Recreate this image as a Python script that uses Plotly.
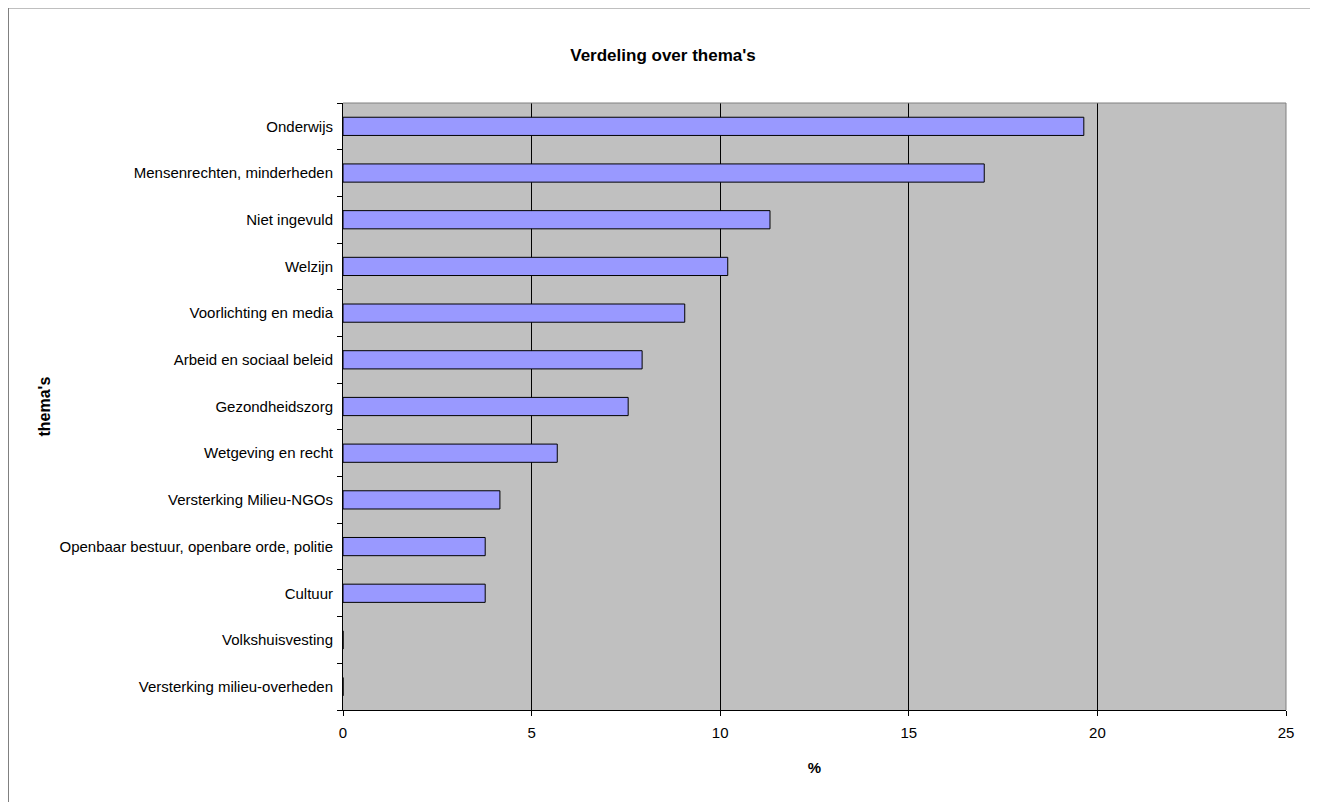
import plotly.graph_objects as go

categories = [
    "Onderwijs",
    "Mensenrechten, minderheden",
    "Niet ingevuld",
    "Welzijn",
    "Voorlichting en media",
    "Arbeid en sociaal beleid",
    "Gezondheidszorg",
    "Wetgeving en recht",
    "Versterking Milieu-NGOs",
    "Openbaar bestuur, openbare orde, politie",
    "Cultuur",
    "Volkshuisvesting",
    "Versterking milieu-overheden",
]
values = [19.64, 17.0, 11.32, 10.2, 9.06, 7.93, 7.56, 5.68, 4.16, 3.77, 3.77, 0, 0]
x_ticks = [0, 5, 10, 15, 20, 25]

FONT = "Liberation Sans, Arial, sans-serif"

# figure size / plot-area geometry (figure coords; page adds 8px body margin)
W, H = 1310, 794
L, R, T, B = 335, 1278, 95, 702

fig = go.Figure(
    go.Bar(
        x=values,
        y=categories,
        orientation="h",
        marker=dict(color="#9999FF", line=dict(color="#000000", width=1)),
        width=0.39,
    )
)

fig.update_layout(
    width=W,
    height=H,
    margin=dict(l=L, r=W - R, t=T, b=H - B),
    paper_bgcolor="white",
    plot_bgcolor="#C0C0C0",
    showlegend=False,
    title=dict(
        text="<b>Verdeling over thema's</b>",
        x=655 / W,
        xref="container",
        y=1 - 47 / H,
        yref="container",
        xanchor="center",
        yanchor="middle",
        font=dict(family=FONT, size=17, color="black"),
    ),
    font=dict(family=FONT, size=15, color="black"),
)

fig.update_xaxes(
    range=[0, 25],
    tickvals=x_ticks,
    ticks="outside",
    ticklen=5,
    tickcolor="black",
    ticklabelstandoff=4,
    showgrid=True,
    gridcolor="black",
    gridwidth=1,
    showline=True,
    linecolor="black",
    linewidth=1,
    zeroline=False,
    tickfont=dict(family=FONT, size=15),
    title=dict(text="<b>%</b>", font=dict(family=FONT, size=15), standoff=22),
)

fig.update_yaxes(
    categoryorder="array",
    categoryarray=categories[::-1],
    autorange=False,
    range=[-0.5, len(categories) - 0.5],
    ticks="outside",
    tickson="boundaries",
    ticklen=5,
    tickcolor="black",
    ticklabelstandoff=6,
    showgrid=False,
    showline=True,
    linecolor="black",
    linewidth=1,
    tickfont=dict(family=FONT, size=15),
)


def px_x(px):
    return (px - L) / (R - L)


def px_y(py):
    return (B - py) / (B - T)


# y-axis title
fig.add_annotation(
    text="<b>thema's</b>", textangle=-90, xref="paper", yref="paper",
    x=px_x(36), y=0.5, xanchor="center", yanchor="middle", showarrow=False,
    font=dict(family=FONT, size=16, color="black"),
)

# plot area border (top & right in gray)
fig.add_shape(type="line", xref="paper", yref="paper", x0=0, x1=1, y0=1, y1=1,
              line=dict(color="#808080", width=1))
fig.add_shape(type="line", xref="paper", yref="paper", x0=1, x1=1, y0=0, y1=1,
              line=dict(color="#808080", width=1))

# outer chart frame
fig.add_shape(type="rect", xref="paper", yref="paper",
              x0=px_x(0.5), x1=px_x(1307), y0=px_y(820), y1=px_y(0),
              line=dict(color="#808080", width=1), fillcolor="rgba(0,0,0,0)", layer="below")

fig.write_html("out.html")
